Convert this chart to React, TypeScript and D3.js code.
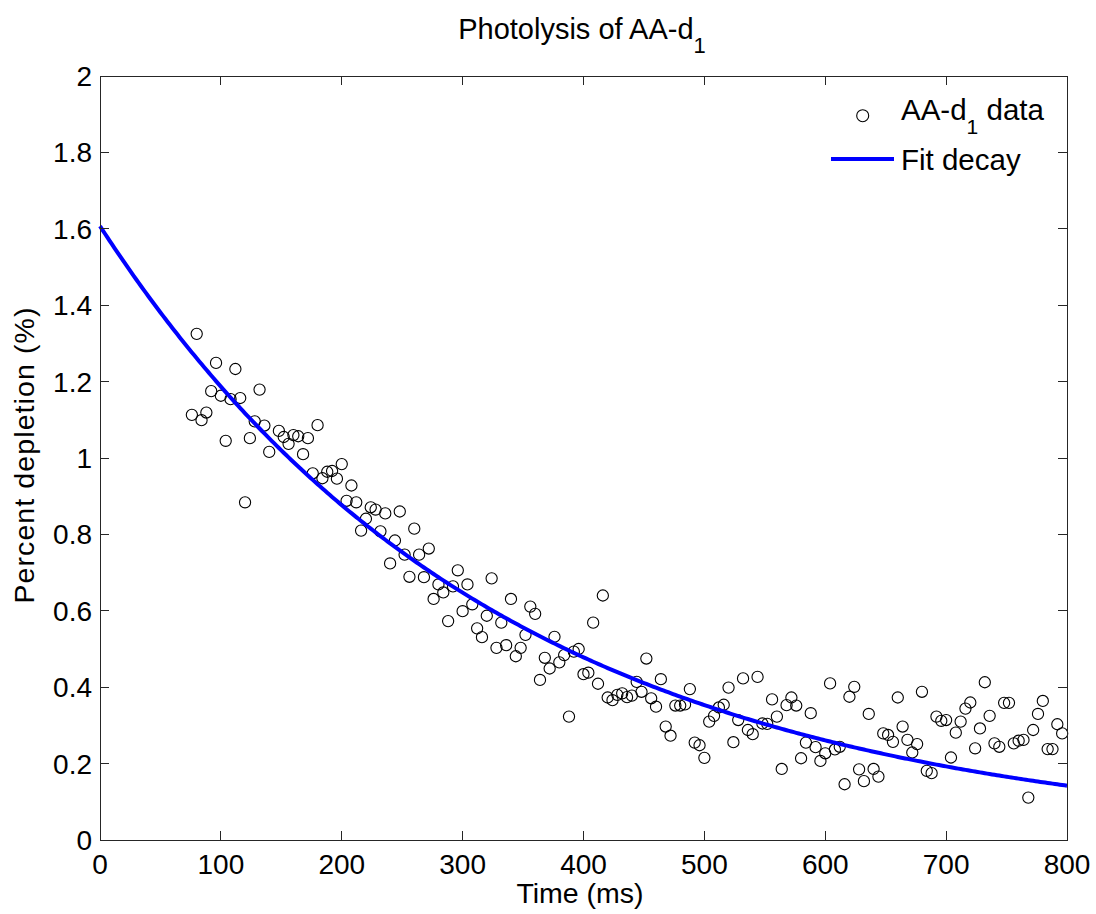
import React from "react";
import * as d3 from "d3";

// ---- Data ----
const times: number[] = [
  76, 80, 84, 88, 92, 96, 100, 104, 108, 112, 116, 120, 124, 128, 132, 136, 140,
  148, 152, 156, 160, 164, 168, 172, 176, 180, 184, 188, 192, 196, 200, 204, 208,
  212, 216, 220, 224, 228, 232, 236, 240, 244, 248, 252, 256, 260, 264, 268, 272,
  276, 280, 284, 288, 292, 296, 300, 304, 308, 312, 316, 320, 324, 328, 332, 336,
  340, 344, 348, 352, 356, 360, 364, 368, 372, 376, 380, 384, 388, 392, 396, 400,
  404, 408, 412, 416, 420, 424, 428, 432, 436, 440, 444, 448, 452, 456, 460, 464,
  468, 472, 476, 480, 484, 488, 492, 496, 500, 504, 508, 512, 516, 520, 524, 528,
  532, 536, 540, 544, 548, 552, 556, 560, 564, 568, 572, 576, 580, 584, 588, 592,
  596, 600, 604, 608, 612, 616, 620, 624, 628, 632, 636, 640, 644, 648, 652, 656,
  660, 664, 668, 672, 676, 680, 684, 688, 692, 696, 700, 704, 708, 712, 716, 720,
  724, 728, 732, 736, 740, 744, 748, 752, 756, 760, 764, 768, 772, 776, 780, 784,
  788, 792, 796,
];

const depletion: number[] = [
  1.113, 1.325, 1.099, 1.119, 1.175, 1.249, 1.163, 1.045, 1.154, 1.233, 1.157, 0.884,
  1.052, 1.096, 1.179, 1.085, 1.016,
  1.071, 1.055, 1.037, 1.06, 1.057, 1.01, 1.052, 0.96, 1.086, 0.947, 0.964, 0.966,
  0.946, 0.984, 0.888, 0.928, 0.884, 0.81, 0.841, 0.871, 0.865, 0.808, 0.855, 0.724,
  0.784, 0.86, 0.747, 0.689, 0.815, 0.747, 0.688, 0.763, 0.631, 0.669, 0.648, 0.573,
  0.664, 0.706, 0.599, 0.669, 0.617, 0.554, 0.531, 0.587, 0.685, 0.503, 0.569, 0.51,
  0.631, 0.481, 0.503, 0.537, 0.611, 0.592, 0.419, 0.477, 0.449, 0.532, 0.465, 0.484,
  0.323, 0.493, 0.5, 0.434, 0.438, 0.569, 0.409, 0.64, 0.373, 0.366, 0.38, 0.384,
  0.374, 0.378, 0.414, 0.388, 0.475, 0.371, 0.349, 0.421, 0.297, 0.273, 0.352, 0.352,
  0.355, 0.395, 0.255, 0.248, 0.215, 0.31, 0.325, 0.347, 0.354, 0.399, 0.256, 0.314,
  0.423, 0.288, 0.277, 0.427, 0.305, 0.304, 0.368, 0.323, 0.186, 0.353, 0.373, 0.352,
  0.214, 0.255, 0.332, 0.243, 0.207, 0.227, 0.41, 0.237, 0.244, 0.146, 0.375, 0.401,
  0.185, 0.154, 0.33, 0.186, 0.166, 0.279, 0.275, 0.257, 0.373, 0.297, 0.262, 0.229,
  0.251, 0.388, 0.181, 0.175, 0.323, 0.312, 0.314, 0.216, 0.281, 0.31, 0.344, 0.36,
  0.24, 0.292, 0.413, 0.325, 0.253, 0.244, 0.359, 0.359, 0.253, 0.26, 0.262, 0.111,
  0.288, 0.33, 0.364, 0.238, 0.238, 0.303, 0.279,
];

// Fitted single-exponential decay parameters: y = fitAmplitude * exp(-t / fitTau)
const fitAmplitude = 1.607;
const fitTau = 330;

const xTicks: number[] = [0, 100, 200, 300, 400, 500, 600, 700, 800];
const yTicks: number[] = [0, 0.2, 0.4, 0.6, 0.8, 1, 1.2, 1.4, 1.6, 1.8, 2];

const titleText = "Photolysis of AA-d";
const xLabel = "Time (ms)";
const yLabel = "Percent depletion (%)";
const legendData = "AA-d";
const legendFit = "Fit decay";

const FONT = "'Liberation Sans', Arial, Helvetica, sans-serif";

export default function App() {
  const W = 1096;
  const H = 914;
  const left = 100;
  const right = 1067;
  const top = 76;
  const bottom = 840;

  const x = d3.scaleLinear().domain([0, 800]).range([left, right]);
  const y = d3.scaleLinear().domain([0, 2]).range([bottom, top]);

  const fitT = d3.range(0, 800.001, 2);
  const fitLine = d3
    .line<number>()
    .x((t) => x(t))
    .y((t) => y(fitAmplitude * Math.exp(-t / fitTau)))(fitT) as string;

  const axisColor = "#262626";
  const tickLen = 9;
  const fsTick = 28;
  const fsLabel = 28.5;
  const fsTitle = 29;
  const fsLegend = 29.5;

  return (
    <svg
      width={W}
      height={H}
      style={{ position: "absolute", left: 0, top: 0, background: "#fff" }}
      fontFamily={FONT}
    >
      <rect x={0} y={0} width={W} height={H} fill="#fff" />

      {/* data points */}
      <g>
        {times.map((t, i) => (
          <circle
            key={i}
            cx={x(t)}
            cy={y(depletion[i])}
            r={5.6}
            fill="none"
            stroke="#000"
            strokeWidth={1.1}
          />
        ))}
      </g>

      {/* fit line */}
      <path d={fitLine} fill="none" stroke="#0000ff" strokeWidth={4} />

      {/* axes box */}
      <rect
        x={left}
        y={top}
        width={right - left}
        height={bottom - top}
        fill="none"
        stroke={axisColor}
        strokeWidth={1}
        shapeRendering="crispEdges"
      />

      {/* x ticks */}
      {xTicks.map((t) => (
        <g key={"xt" + t}>
          <line x1={x(t)} x2={x(t)} y1={bottom} y2={bottom - tickLen} stroke={axisColor} shapeRendering="crispEdges" />
          <line x1={x(t)} x2={x(t)} y1={top} y2={top + tickLen} stroke={axisColor} shapeRendering="crispEdges" />
          <text x={x(t)} y={873.5} textAnchor="middle" fontSize={fsTick} fill="#000">
            {t}
          </text>
        </g>
      ))}

      {/* y ticks */}
      {yTicks.map((v) => (
        <g key={"yt" + v}>
          <line x1={left} x2={left + tickLen} y1={y(v)} y2={y(v)} stroke={axisColor} shapeRendering="crispEdges" />
          <line x1={right} x2={right - tickLen} y1={y(v)} y2={y(v)} stroke={axisColor} shapeRendering="crispEdges" />
          <text x={92} y={y(v) + 10} textAnchor="end" fontSize={fsTick} fill="#000">
            {String(v)}
          </text>
        </g>
      ))}

      {/* title */}
      <text x={582} y={38.5} textAnchor="middle" fontSize={fsTitle} fill="#000">
        {titleText}
        <tspan dy={14} fontSize={22}>1</tspan>
      </text>

      {/* axis labels */}
      <text x={580} y={903} textAnchor="middle" fontSize={fsLabel} fill="#000">
        {xLabel}
      </text>
      <text
        transform={`translate(34,455) rotate(-90)`}
        textAnchor="middle"
        fontSize={fsLabel}
        letterSpacing={1.1}
        fill="#000"
      >
        {yLabel}
      </text>

      {/* legend */}
      <g>
        <circle cx={862.7} cy={115.7} r={6} fill="none" stroke="#000" strokeWidth={1.1} />
        <text x={901} y={119.5} fontSize={fsLegend} fill="#000">
          {legendData}
          <tspan dy={14} fontSize={21}>1</tspan>
          <tspan dy={-14}>{" data"}</tspan>
        </text>
        <line x1={831} x2={894} y1={159} y2={159} stroke="#0000ff" strokeWidth={4} />
        <text x={901} y={170} fontSize={fsLegend} fill="#000">
          {legendFit}
        </text>
      </g>
    </svg>
  );
}
